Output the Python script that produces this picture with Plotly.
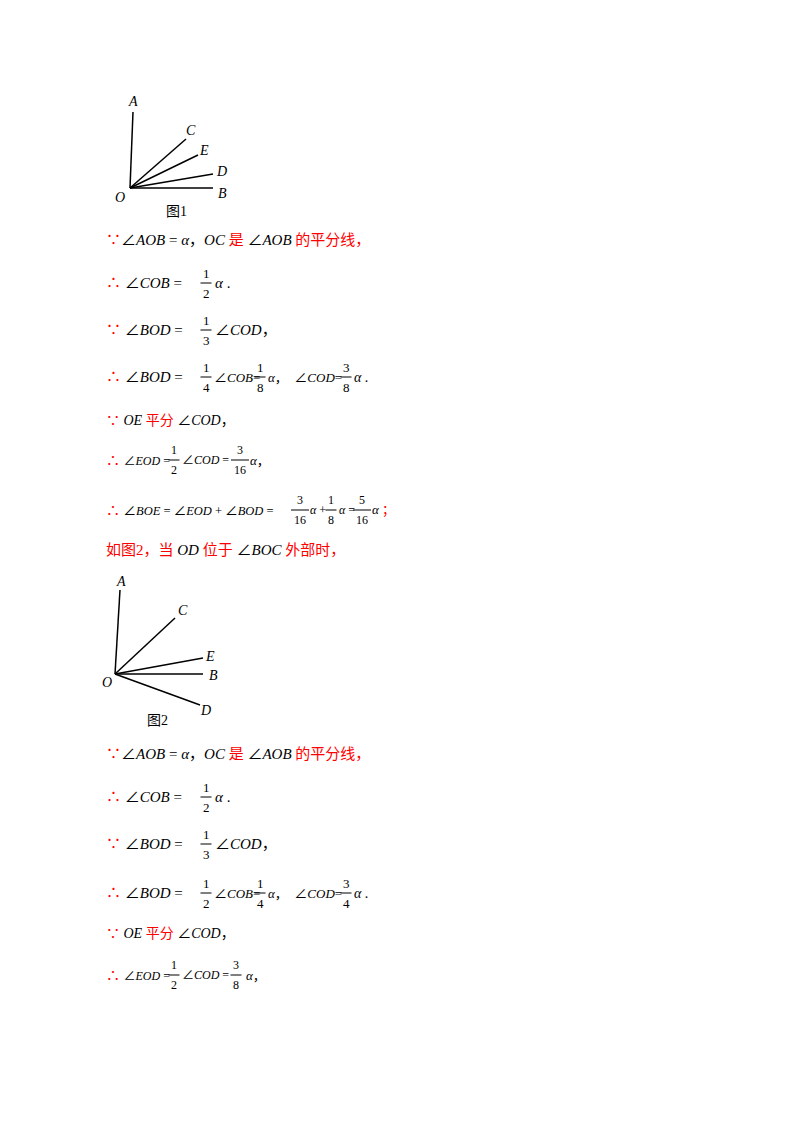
import plotly.graph_objects as go

# Figure 1 rays (origin and endpoints) and labels
fig1_origin = (130, 188)
fig1_ends = {"A": (133, 112), "C": (186, 139), "E": (198, 155), "D": (213, 174), "B": (213, 188)}
fig1_labels = {"A": (133, 101), "C": (191, 130), "E": (204, 150), "D": (221, 171), "B": (222, 193), "O": (120, 197)}
fig2_origin = (115, 674)
fig2_ends = {"A": (120, 590), "C": (175, 618), "E": (203, 658), "B": (203, 674), "D": (200, 705)}
fig2_labels = {"A": (121, 581), "C": (183, 610), "E": (210, 656), "B": (213, 675), "D": (205, 710), "O": (107, 682)}

RED = "#ff0000"
FONT = "Liberation Serif, Times New Roman, Noto Sans CJK SC"
fig = go.Figure()
ann = []
shapes = []

def txt(x, y, s, size=15, anchor="left"):
    ann.append(dict(x=x, y=y, text=s, showarrow=False, xanchor=anchor, yanchor="middle",
                    font=dict(family=FONT, size=size, color="black")))

def r(s):
    return f"<span style='color:{RED}'>{s}</span>"

def frac(xc, y, n, d, size=13):
    txt(xc, y - 10, n, size, "center")
    txt(xc, y + 10, d, size, "center")
    w = 3.5 * max(len(n), len(d)) + 2
    shapes.append(dict(type="line", x0=xc - w, x1=xc + w, y0=y, y1=y, line=dict(color="black", width=1)))

for origin, ends, labels in [(fig1_origin, fig1_ends, fig1_labels), (fig2_origin, fig2_ends, fig2_labels)]:
    for k, (ex, ey) in ends.items():
        fig.add_trace(go.Scatter(x=[origin[0], ex], y=[origin[1], ey], mode="lines",
                                 line=dict(color="black", width=1.5), showlegend=False, hoverinfo="skip"))
    for k, (lx, ly) in labels.items():
        txt(lx, ly, f"<i>{k}</i>", 14, "center")
txt(176, 211, "图1", 14, "center")
txt(157, 720, "图2", 14, "center")

def header(y):
    txt(104, y, r("∵") + "∠<i>AOB</i> = <i>α</i>，<i>OC</i> " + r("是") + " ∠<i>AOB</i> " + r("的平分线，"))

for y0 in (0, 514):
    header(240 + y0)
    txt(104, 283 + y0, r("∴") + " ∠<i>COB</i> =")
    frac(206, 283 + y0, "1", "2")
    txt(213, 283 + y0, "<i>α</i> .")
    txt(104, 330 + y0, r("∵") + " ∠<i>BOD</i> =")
    frac(206, 330 + y0, "1", "3")
    txt(213, 330 + y0, "∠<i>COD</i>，")

def line4(y, f1, f2, f3):
    txt(104, y, r("∴") + " ∠<i>BOD</i> =")
    frac(206, y, *f1)
    txt(212, y, "∠<i>COB</i>=", 13)
    frac(260, y, *f2)
    txt(266, y, "<i>α</i>，  ∠<i>COD</i>=", 13)
    frac(346, y, *f3)
    txt(352, y, "<i>α</i> .", 14)

line4(377, ("1", "4"), ("1", "8"), ("3", "8"))
line4(893, ("1", "2"), ("1", "4"), ("3", "4"))

for y in (420, 933):
    txt(104, y, r("∵") + " <i>OE</i> " + r("平分") + " ∠<i>COD</i>，", 14)

def line6(y, f2, x2):
    txt(104, y, r("∴") + " <span style='font-size:12px'>∠<i>EOD</i> =</span>", 14)
    frac(174, y, "1", "2", 12)
    txt(180, y, "∠<i>COD</i> =", 12)
    frac(x2, y, *f2, 12)
    txt(x2 + 8, y, "<i>α</i>，", 13)

line6(460, ("3", "16"), 240)
line6(975, ("3", "8"), 236)

txt(104, 510, r("∴") + " <span style='font-size:12.5px'>∠<i>BOE</i> = ∠<i>EOD</i> + ∠<i>BOD</i> =</span>", 14)
frac(300, 510, "3", "16", 12)
txt(308, 510, "<i>α</i> +", 12)
frac(331, 510, "1", "8", 12)
txt(337, 510, "<i>α</i> =", 12)
frac(362, 510, "5", "16", 12)
txt(370, 510, "<i>α</i> " + r("；"), 13)
txt(104, 550, r("如图2，当") + " <i>OD</i> " + r("位于") + " ∠<i>BOC</i> " + r("外部时，"))

# Page body has an 8px margin; offset axis ranges so coordinates match page pixels
fig.update_layout(width=800, height=1132, margin=dict(l=0, r=0, t=0, b=0),
                  paper_bgcolor="white", plot_bgcolor="white", annotations=ann, shapes=shapes,
                  xaxis=dict(range=[8, 808], visible=False, fixedrange=True),
                  yaxis=dict(range=[1140, 8], visible=False, fixedrange=True))
fig.write_html("out.html")
